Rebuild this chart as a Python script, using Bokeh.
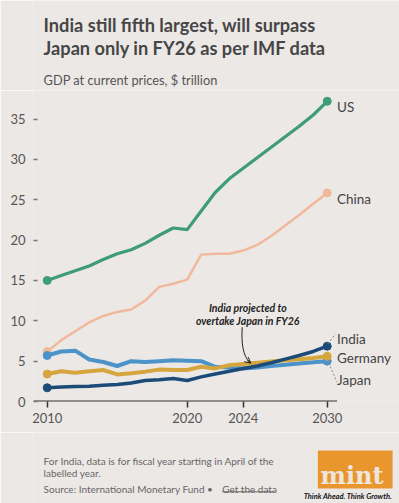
from bokeh.plotting import figure
from bokeh.layouts import column
from bokeh.models import Label, FixedTicker, Arrow, OpenHead, Range1d
from bokeh.core.properties import value
from bokeh.embed import file_html
from bokeh.resources import INLINE

# ---------------- data ----------------
years = list(range(2010, 2031))
us = [15.0, 15.6, 16.2, 16.8, 17.6, 18.3, 18.8, 19.6, 20.6, 21.5, 21.3,
      23.6, 25.9, 27.6, 28.9, 30.2, 31.5, 32.8, 34.1, 35.5, 37.2]
china = [6.2, 7.6, 8.7, 9.8, 10.6, 11.1, 11.4, 12.5, 14.2, 14.6, 15.1,
         18.2, 18.3, 18.3, 18.7, 19.4, 20.5, 21.8, 23.1, 24.5, 25.85]
japan = [5.7, 6.2, 6.3, 5.2, 4.9, 4.4, 5.0, 4.9, 5.0, 5.1, 5.05,
         5.0, 4.3, 4.2, 4.1, 4.2, 4.4, 4.55, 4.7, 4.85, 5.0]
germany = [3.4, 3.75, 3.55, 3.75, 3.9, 3.35, 3.5, 3.7, 3.95, 3.9, 3.9,
           4.3, 4.1, 4.5, 4.65, 4.8, 4.95, 5.1, 5.25, 5.4, 5.6]
india = [1.7, 1.8, 1.85, 1.9, 2.0, 2.1, 2.3, 2.6, 2.7, 2.85, 2.6,
         3.05, 3.4, 3.75, 4.1, 4.4, 4.8, 5.25, 5.7, 6.2, 6.85]

x_ticks = [2010, 2020, 2024, 2030]
y_ticks = [0, 5, 10, 15, 20, 25, 30, 35]

title_1 = "India still fifth largest, will surpass"
title_2 = "Japan only in FY26 as per IMF data"
subtitle = "GDP at current prices, $ trillion"
note_1 = "For India, data is for fiscal year starting in April of the"
note_2 = "labelled year."
source = "Source: International Monetary Fund \u2022"
source_link = "Get the data"
annot_1 = "India projected to"
annot_2 = "overtake Japan in FY26"

# ---------------- styles ----------------
BG = "#ECE8E6"
C_US = "#3E9C78"
C_CN = "#F0B99C"
C_JP = "#4C93C9"
C_DE = "#D6A63E"
C_IN = "#1D4B78"
TXT = "#464646"
FONT = "Lato"
W = 399


def text_fig(h):
    f = figure(width=W, height=h, output_backend="svg", toolbar_location=None,
               x_range=Range1d(0, W), y_range=Range1d(h, 0),
               x_axis_location=None, y_axis_location=None,
               min_border=0, background_fill_color=BG, border_fill_color=BG,
               outline_line_color=None)
    f.grid.visible = False
    return f


# ---------------- header ----------------
top = text_fig(90)
top.text(x=[11], y=[24.5], text=[title_1], text_font=value(FONT),
         text_font_size="18.2px", text_font_style="bold", text_color=TXT,
         text_baseline="alphabetic")
top.text(x=[11], y=[47.3], text=[title_2], text_font=value(FONT),
         text_font_size="18.2px", text_font_style="bold", text_color=TXT,
         text_baseline="alphabetic")
top.text(x=[11], y=[79], text=[subtitle], text_font=value(FONT),
         text_font_size="12.8px", text_color="#555555",
         text_baseline="alphabetic")

# ---------------- main chart ----------------
X0 = 2009.021
p = figure(width=W, height=342, output_backend="svg", toolbar_location=None,
           x_range=Range1d(X0, X0 + 366 / 14.0), y_range=Range1d(0, 311 / 8.07),
           min_border_left=33, min_border_right=0, min_border_top=0,
           min_border_bottom=31,
           background_fill_color=BG, border_fill_color=BG,
           outline_line_color=None)
p.grid.visible = False

xa = p.xaxis[0]
xa.ticker = FixedTicker(ticks=x_ticks)
xa.axis_line_color = None
xa.major_tick_out = 6
xa.major_tick_in = 0
xa.minor_tick_out = 0
xa.minor_tick_in = 0
xa.major_tick_line_color = "#333333"
xa.major_tick_line_width = 1.5
xa.major_label_standoff = 5
xa.major_label_text_font = FONT
xa.major_label_text_font_size = "13px"
xa.major_label_text_color = "#555555"

ya = p.yaxis[0]
ya.ticker = FixedTicker(ticks=y_ticks)
ya.axis_line_color = None
ya.major_tick_in = 4
ya.major_tick_out = 0
ya.minor_tick_out = 0
ya.minor_tick_in = 0
ya.major_tick_line_color = "#777777"
ya.major_tick_line_width = 1.3
ya.major_label_standoff = 8
ya.major_label_text_font = FONT
ya.major_label_text_font_size = "13px"
ya.major_label_text_color = "#555555"

# baseline
p.segment(x0=[X0], y0=[0], x1=[2030.7], y1=[0], line_color="#333333", line_width=2)

series = [
    (china, C_CN, 2.5),
    (us, C_US, 3.2),
    (japan, C_JP, 4.0),
    (germany, C_DE, 4.0),
    (india, C_IN, 3.5),
]
for vals, col, w in series:
    p.line(years, vals, line_color=col, line_width=w)
    p.scatter([years[0], years[-1]], [vals[0], vals[-1]], size=8,
              fill_color=col, line_color=col)

# leader lines
p.segment(x0=[years[-1] + 0.05], y0=[india[-1] + 0.3], x1=[2030.6], y1=[8.4],
          line_color="#888888", line_width=1, line_dash="2 2")
p.segment(x0=[years[-1] + 0.1], y0=[japan[-1] - 0.2], x1=[2030.7], y1=[2.4],
          line_color="#888888", line_width=1, line_dash="2 2")

for txt, yv in [("US", 36.52), ("China", 25.07), ("India", 7.73),
                ("Germany", 5.41), ("Japan", 2.63)]:
    p.add_layout(Label(x=2030.7, y=yv, text=txt, text_font=FONT,
                       text_font_size="13.5px", text_color="#444444",
                       text_baseline="alphabetic"))

p.add_layout(Label(x=2024.33, y=11.57, text=annot_1, text_font=FONT,
                   text_font_size="10.5px", text_font_style="bold italic",
                   text_color="#222222", text_align="center",
                   text_baseline="alphabetic"))
p.add_layout(Label(x=2024.33, y=9.95, text=annot_2, text_font=FONT,
                   text_font_size="10.5px", text_font_style="bold italic",
                   text_color="#222222", text_align="center",
                   text_baseline="alphabetic"))
p.bezier(x0=[2023.93], y0=[9.2], x1=[2024.45], y1=[4.9],
         cx0=[2023.85], cy0=[7.2], cx1=[2024.0], cy1=[5.6],
         line_color="#222222", line_width=1)
p.add_layout(Arrow(end=OpenHead(size=6, line_color="#222222", line_width=1),
                   x_start=2024.3, y_start=5.1, x_end=2024.55, y_end=4.75,
                   line_color="#222222", line_width=1))

# ---------------- footer ----------------
bot = text_fig(71)
for yy, t in [(28, note_1), (40.3, note_2), (56.3, source)]:
    bot.text(x=[11], y=[yy], text=[t], text_font=value(FONT),
             text_font_size="10px", text_color="#666666",
             text_baseline="alphabetic")
bot.text(x=[205.7], y=[56.3], text=[source_link], text_font=value(FONT),
         text_font_size="10px", text_color="#666666",
         text_baseline="alphabetic")
bot.segment(x0=[205.7], y0=[59.3], x1=[263], y1=[59.3], line_color="#666666",
            line_width=1)

# logo
bot.quad(left=[310], right=[391.5], top=[18], bottom=[56],
         fill_color="#E9962F", line_color=None)
bot.text(x=[381.7], y=[43], text=["mint"], text_font=value("DejaVu Serif"),
         text_font_size="24px", text_font_style="bold", text_color="#EDE6DD",
         text_align="right", text_baseline="alphabetic")
bot.text(x=[391], y=[64], text=["Think Ahead. Think Growth."],
         text_font=value(FONT), text_font_size="7.5px",
         text_font_style="bold italic", text_color="#111111",
         text_align="right", text_baseline="alphabetic")

layout = column(top, p, bot, spacing=0)
open("out.html", "w").write(file_html(layout, INLINE))
